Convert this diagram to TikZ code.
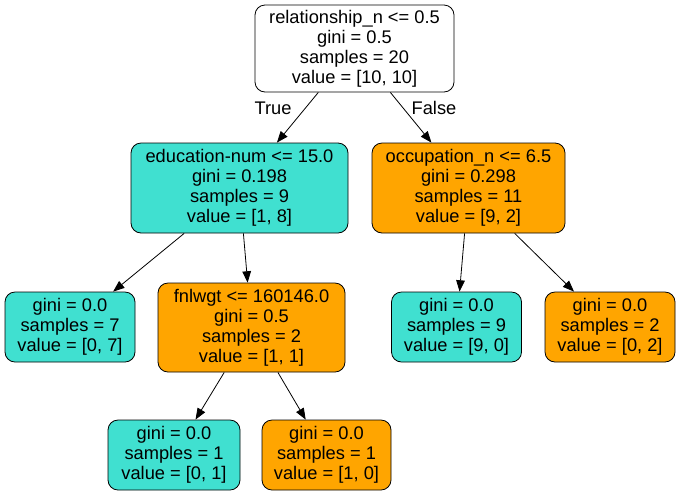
\documentclass[tikz,border=0pt]{standalone}
\usepackage{fontspec}
\setmainfont{Liberation Sans}
\usetikzlibrary{arrows.meta}
\definecolor{turq}{RGB}{64,224,208}
\definecolor{orng}{RGB}{255,165,0}
\tikzset{
  tree/.style={draw=black, rounded corners=7.5pt, align=center, inner sep=0pt,
    font=\fontsize{13.7pt}{15pt}\selectfont, line width=0.6pt},
  edge/.style={-{Triangle[length=8.5pt,width=6.5pt]}, line width=0.6pt},
  lbl/.style={font=\fontsize{13.7pt}{15pt}\selectfont, inner sep=0pt}
}
\begin{document}
\begin{tikzpicture}[x=0.75pt,y=-0.75pt]
\useasboundingbox (0,0) rectangle (680,497);
\node[tree, fill=white, minimum width=149.25pt, minimum height=65.25pt] (root) at (354.5,48.5)
  {relationship\_n <= 0.5\\gini = 0.5\\samples = 20\\value = [10, 10]};
\node[tree, fill=turq, minimum width=162.75pt, minimum height=67.5pt] (edu) at (239.5,188)
  {education-num <= 15.0\\gini = 0.198\\samples = 9\\value = [1, 8]};
\node[tree, fill=orng, minimum width=144.75pt, minimum height=67.5pt] (occ) at (468.5,188)
  {occupation\_n <= 6.5\\gini = 0.298\\samples = 11\\value = [9, 2]};
\node[tree, fill=turq, minimum width=97.5pt, minimum height=52.5pt] (l7) at (70,327)
  {gini = 0.0\\samples = 7\\value = [0, 7]};
\node[tree, fill=orng, minimum width=140.25pt, minimum height=66.75pt] (fnl) at (251.5,327.5)
  {fnlwgt <= 160146.0\\gini = 0.5\\samples = 2\\value = [1, 1]};
\node[tree, fill=turq, minimum width=97.5pt, minimum height=52.5pt] (l9) at (456.5,327)
  {gini = 0.0\\samples = 9\\value = [9, 0]};
\node[tree, fill=orng, minimum width=97.5pt, minimum height=52.5pt] (l2) at (610,327)
  {gini = 0.0\\samples = 2\\value = [0, 2]};
\node[tree, fill=turq, minimum width=99pt, minimum height=52.5pt] (l01) at (174,455)
  {gini = 0.0\\samples = 1\\value = [0, 1]};
\node[tree, fill=orng, minimum width=96.75pt, minimum height=52.5pt] (l10) at (326.5,455)
  {gini = 0.0\\samples = 1\\value = [1, 0]};
\draw[edge] (root) -- (edu);
\draw[edge] (root) -- (occ);
\draw[edge] (edu) -- (l7);
\draw[edge] (edu) -- (fnl);
\draw[edge] (occ) -- (l9);
\draw[edge] (occ) -- (l2);
\draw[edge] (fnl) -- (l01);
\draw[edge] (fnl) -- (l10);
\node[lbl] (t) at (273,108) {True};
\node[lbl] (f) at (434,108) {False};
\end{tikzpicture}
\end{document}
